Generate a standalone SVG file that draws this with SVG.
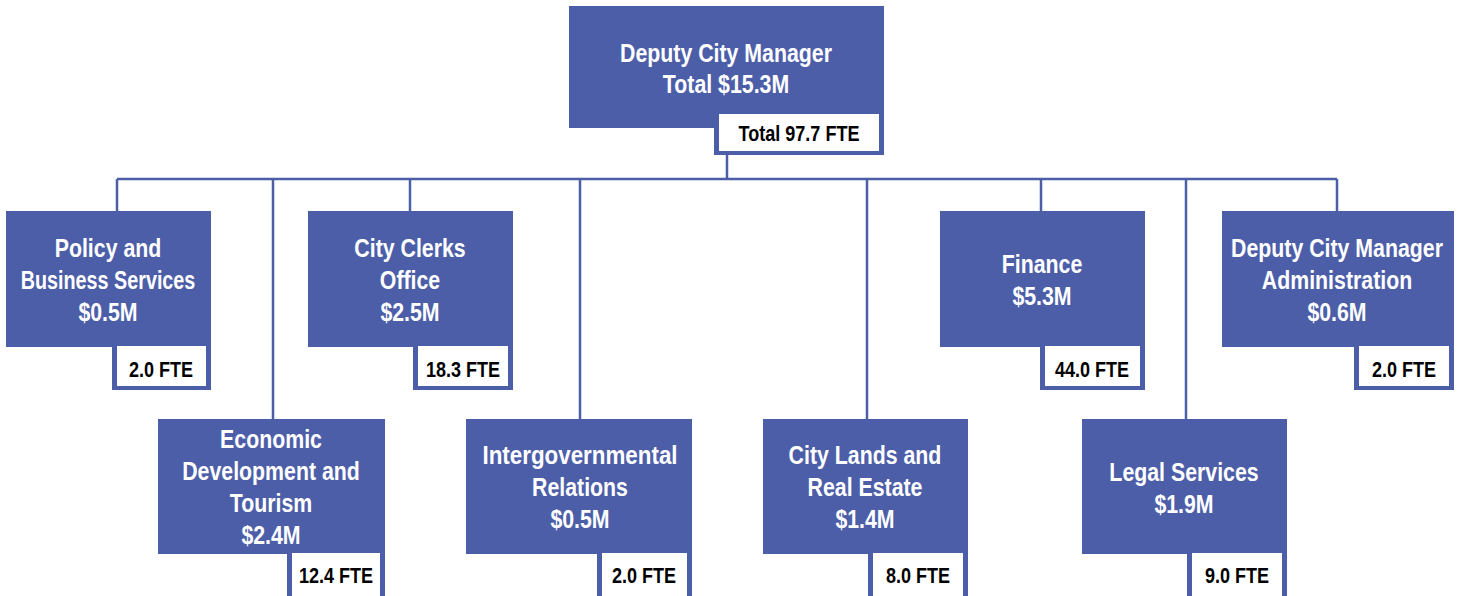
<svg xmlns="http://www.w3.org/2000/svg" width="1459" height="596" viewBox="0 0 1459 596">
<style>
.box{fill:#4d5ea9}
.fte{fill:#ffffff}
.t{font-family:"Liberation Sans",Arial,sans-serif;font-size:26px;fill:#ffffff;text-anchor:middle;font-weight:bold}
.f{font-family:"Liberation Sans",Arial,sans-serif;font-size:22px;fill:#000000;text-anchor:middle;font-weight:bold}
.c{stroke:#4d5ea9;stroke-width:2.5;fill:none}
</style>
<rect width="1459" height="596" fill="#ffffff"/>
<g id="connectors">
<path class="c" d="M727 155V179M117 179H1337M117 179V211M273 179V419M410 179V211M580 179V419M867 179V419M1041 179V211M1186 179V419M1337 179V211"/>
</g>
<g id="n0">
<rect class="box" x="569" y="6" width="315" height="122"/>
<rect class="box" x="714" y="114" width="170" height="41"/>
<rect class="fte" x="719" y="114" width="160" height="37"/>
<text class="t" x="0" y="62" transform="translate(726 0) scale(0.82 1)">Deputy City Manager</text>
<text class="t" x="0" y="93" transform="translate(726 0) scale(0.82 1)">Total $15.3M</text>
<text class="f" x="0" y="141" transform="translate(799 0) scale(0.82 1)">Total 97.7 FTE</text>
</g>
<g id="n1">
<rect class="box" x="6" y="211" width="205" height="136"/>
<rect class="box" x="112" y="346" width="99" height="44"/>
<rect class="fte" x="117" y="346" width="89" height="40"/>
<text class="t" x="0" y="257" transform="translate(108 0) scale(0.82 1)">Policy and</text>
<text class="t" x="0" y="289" transform="translate(108 0) scale(0.82 1)" textLength="213" lengthAdjust="spacingAndGlyphs">Business Services</text>
<text class="t" x="0" y="321" transform="translate(108 0) scale(0.82 1)">$0.5M</text>
<text class="f" x="0" y="377" transform="translate(161 0) scale(0.82 1)">2.0 FTE</text>
</g>
<g id="n2">
<rect class="box" x="308" y="211" width="205" height="136"/>
<rect class="box" x="413" y="346" width="100" height="44"/>
<rect class="fte" x="418" y="346" width="90" height="40"/>
<text class="t" x="0" y="257" transform="translate(410 0) scale(0.82 1)">City Clerks</text>
<text class="t" x="0" y="289" transform="translate(410 0) scale(0.82 1)">Office</text>
<text class="t" x="0" y="321" transform="translate(410 0) scale(0.82 1)">$2.5M</text>
<text class="f" x="0" y="377" transform="translate(463 0) scale(0.82 1)">18.3 FTE</text>
</g>
<g id="n3">
<rect class="box" x="940" y="211" width="205" height="136"/>
<rect class="box" x="1040" y="346" width="105" height="44"/>
<rect class="fte" x="1045" y="346" width="95" height="40"/>
<text class="t" x="0" y="273" transform="translate(1042 0) scale(0.82 1)">Finance</text>
<text class="t" x="0" y="305" transform="translate(1042 0) scale(0.82 1)">$5.3M</text>
<text class="f" x="0" y="377" transform="translate(1092 0) scale(0.82 1)">44.0 FTE</text>
</g>
<g id="n4">
<rect class="box" x="1222" y="211" width="232" height="136"/>
<rect class="box" x="1354" y="346" width="100" height="44"/>
<rect class="fte" x="1359" y="346" width="90" height="40"/>
<text class="t" x="0" y="257" transform="translate(1337 0) scale(0.82 1)">Deputy City Manager</text>
<text class="t" x="0" y="289" transform="translate(1337 0) scale(0.82 1)">Administration</text>
<text class="t" x="0" y="321" transform="translate(1337 0) scale(0.82 1)">$0.6M</text>
<text class="f" x="0" y="377" transform="translate(1404 0) scale(0.82 1)">2.0 FTE</text>
</g>
<g id="n5">
<rect class="box" x="158" y="419" width="227" height="135"/>
<rect class="box" x="287" y="553" width="98" height="43"/>
<rect class="fte" x="292" y="553" width="88" height="43"/>
<text class="t" x="0" y="448" transform="translate(271 0) scale(0.82 1)">Economic</text>
<text class="t" x="0" y="480" transform="translate(271 0) scale(0.82 1)">Development and</text>
<text class="t" x="0" y="512" transform="translate(271 0) scale(0.82 1)">Tourism</text>
<text class="t" x="0" y="544" transform="translate(271 0) scale(0.82 1)">$2.4M</text>
<text class="f" x="0" y="583" transform="translate(336 0) scale(0.82 1)">12.4 FTE</text>
</g>
<g id="n6">
<rect class="box" x="466" y="419" width="226" height="135"/>
<rect class="box" x="597" y="553" width="95" height="43"/>
<rect class="fte" x="602" y="553" width="85" height="43"/>
<text class="t" x="0" y="464" transform="translate(580 0) scale(0.82 1)" textLength="238" lengthAdjust="spacingAndGlyphs">Intergovernmental</text>
<text class="t" x="0" y="496" transform="translate(580 0) scale(0.82 1)">Relations</text>
<text class="t" x="0" y="528" transform="translate(580 0) scale(0.82 1)">$0.5M</text>
<text class="f" x="0" y="583" transform="translate(644 0) scale(0.82 1)">2.0 FTE</text>
</g>
<g id="n7">
<rect class="box" x="763" y="419" width="205" height="135"/>
<rect class="box" x="868" y="553" width="100" height="43"/>
<rect class="fte" x="873" y="553" width="90" height="43"/>
<text class="t" x="0" y="464" transform="translate(865 0) scale(0.82 1)">City Lands and</text>
<text class="t" x="0" y="496" transform="translate(865 0) scale(0.82 1)">Real Estate</text>
<text class="t" x="0" y="528" transform="translate(865 0) scale(0.82 1)">$1.4M</text>
<text class="f" x="0" y="583" transform="translate(918 0) scale(0.82 1)">8.0 FTE</text>
</g>
<g id="n8">
<rect class="box" x="1082" y="419" width="205" height="135"/>
<rect class="box" x="1187" y="553" width="100" height="43"/>
<rect class="fte" x="1192" y="553" width="90" height="43"/>
<text class="t" x="0" y="481" transform="translate(1184 0) scale(0.82 1)">Legal Services</text>
<text class="t" x="0" y="513" transform="translate(1184 0) scale(0.82 1)">$1.9M</text>
<text class="f" x="0" y="583" transform="translate(1237 0) scale(0.82 1)">9.0 FTE</text>
</g>
</svg>
